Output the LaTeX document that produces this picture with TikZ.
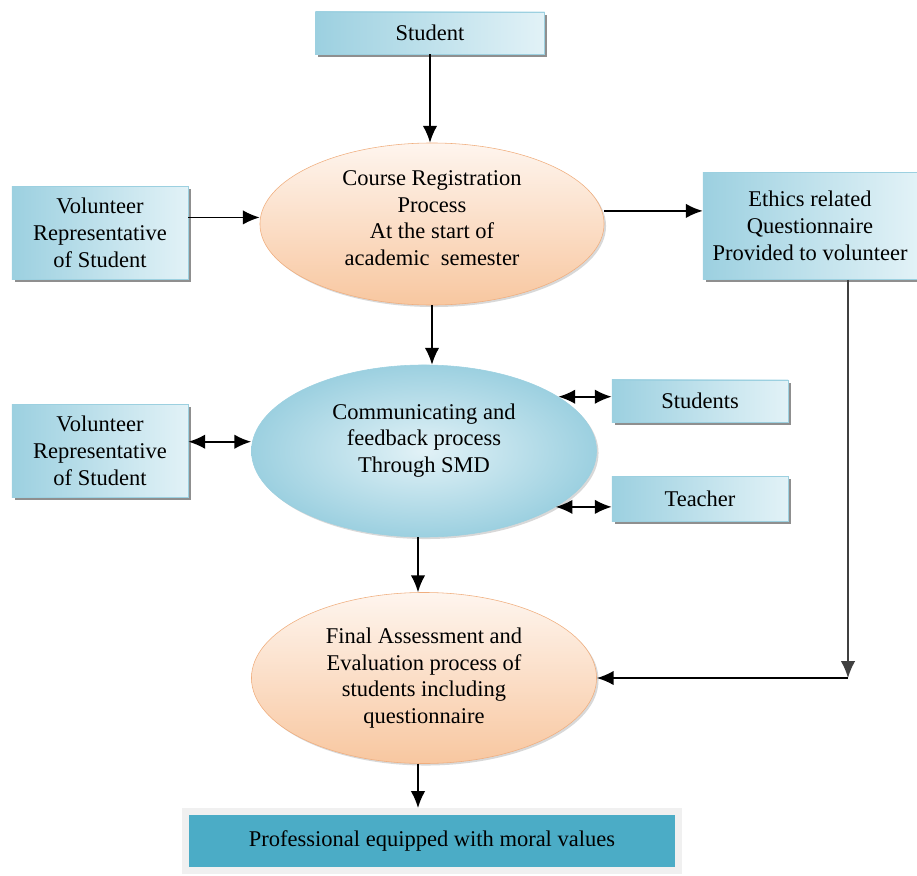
\documentclass[tikz,border=0pt]{standalone}
\usepackage{fontspec}
\setmainfont{Liberation Serif}
\usetikzlibrary{calc}
\usetikzlibrary{arrows.meta}
\usetikzlibrary{shapes.geometric,shadows}
\definecolor{boxdark}{HTML}{9CD0E0}
\definecolor{boxlight}{HTML}{E2F2F7}
\definecolor{peachtop}{HTML}{FEF5EE}
\definecolor{peachbot}{HTML}{F8C7A0}
\definecolor{peachline}{HTML}{F0AE7E}
\definecolor{tealfill}{HTML}{4BACC6}
\tikzset{
  txt/.style={align=center, inner sep=0pt, font=\fontsize{16}{19}\selectfont},
  box/.style={txt, rectangle, draw=boxdark, left color=boxdark, right color=boxlight,
    drop shadow={shadow xshift=0.07cm, shadow yshift=-0.07cm, fill=black!55, opacity=0.8}},
  peachproc/.style={txt, ellipse, draw=peachline, top color=peachtop, bottom color=peachbot,
    drop shadow={shadow xshift=0.05cm, shadow yshift=-0.05cm, fill=black!30, opacity=0.5}},
  blueproc/.style={txt, ellipse, draw=boxdark, inner color=boxlight, outer color=boxdark,
    drop shadow={shadow xshift=0.05cm, shadow yshift=-0.05cm, fill=black!30, opacity=0.5}},
  tip/.tip={Latex[length=4.2mm,width=3.6mm]},
  link/.style={line width=1.2pt, -tip},
  dlink/.style={line width=1.2pt, tip-tip}
}
\begin{document}
\begin{tikzpicture}[x=0.025cm, y=-0.025cm]
\useasboundingbox (0,0) rectangle (917,876);
\node[box, minimum width=5.725cm, minimum height=1.05cm] (stud) at (430,33) {Student};
\node[peachproc, minimum width=8.6cm, minimum height=4.05cm, text depth=0.3cm] (reg) at (432,224)
  {Course Registration\\Process\\At the start of\\academic\ \ semester};
\node[box, minimum width=4.4cm, minimum height=2.325cm] (vola) at (100,233) {Volunteer\\Representative\\of Student};
\node[box, minimum width=5.35cm, minimum height=2.675cm] (eth) at (810,226)
  {Ethics related\\Questionnaire\\Provided to volunteer};
\node[blueproc, minimum width=8.625cm, minimum height=4.3cm, text depth=0.65cm] (smd) at (424,451)
  {Communicating and\\feedback process\\Through SMD};
\node[box, minimum width=4.4cm, minimum height=2.325cm] (volb) at (100,451) {Volunteer\\Representative\\of Student};
\node[box, minimum width=4.4cm, minimum height=1.05cm] (studs) at (700,401) {Students};
\node[box, minimum width=4.4cm, minimum height=1.125cm] (teach) at (700,499) {Teacher};
\node[peachproc, minimum width=8.625cm, minimum height=4.275cm] (eval) at (424,678)
  {Final Assessment and\\Evaluation process of\\students including\\questionnaire};
\node[txt, rectangle, fill=tealfill, draw=black!6, line width=0.175cm, minimum width=12.3cm, minimum height=1.475cm,
  drop shadow={shadow xshift=0.06cm, shadow yshift=-0.06cm, fill=black!25}] (prof) at (432,841)
  {Professional equipped with moral values};
\coordinate (turn) at ([xshift=0.95cm]eth.south |- eval.east);
\draw[link] (stud.south) -- (stud.south |- reg.north);
\draw[link] (vola.10) -- (vola.10 -| reg.west);
\draw[link] (reg.east |- eth.172) -- (eth.172);
\draw[link] (reg.south) -- (reg.south |- smd.north);
\draw[dlink] (volb.6) -- (volb.6 -| smd.west);
\draw[dlink] (smd.22) -- (smd.22 -| studs.west);
\draw[dlink] (smd.-23) -- (smd.-23 -| teach.west);
\draw[link] ([xshift=-0.15cm]smd.south) -- ([xshift=-0.15cm]smd.south |- eval.north);
\draw[link] ([xshift=-0.15cm]eval.south) -- ([xshift=-0.15cm]eval.south |- prof.north);
\draw[link, black!75] ([xshift=0.95cm]eth.south) -- (turn);
\draw[link] (turn) -- (eval.east);
\end{tikzpicture}
\end{document}
